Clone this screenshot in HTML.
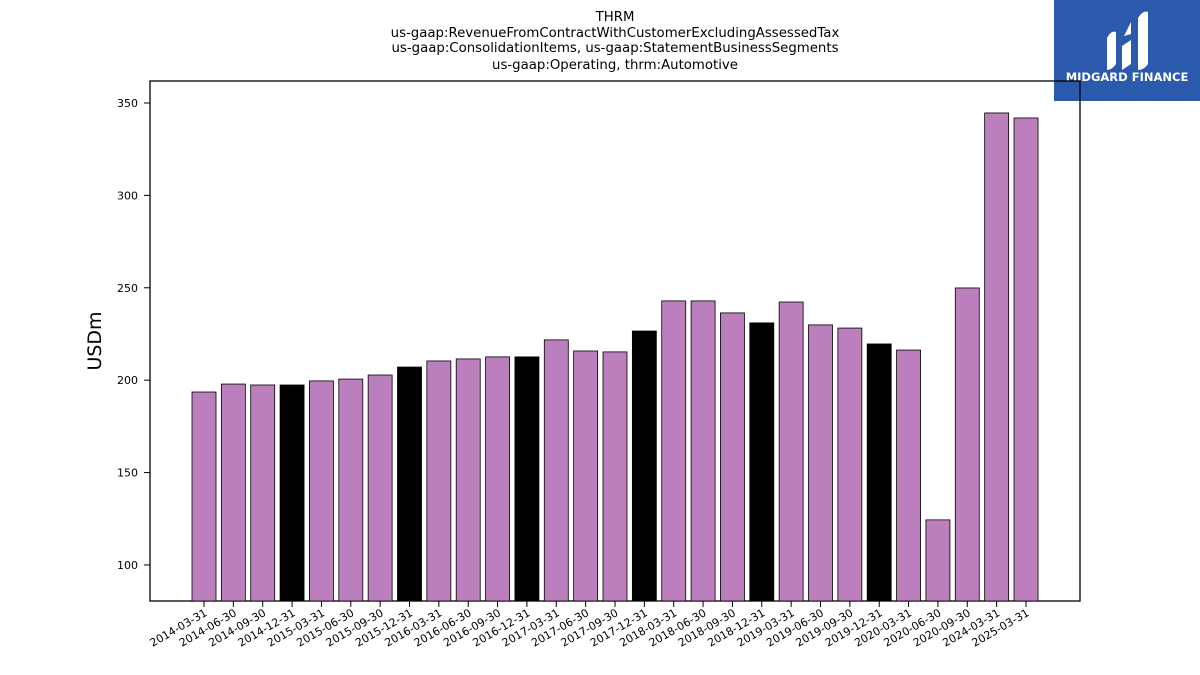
<!DOCTYPE html>
<html><head><meta charset="utf-8"><style>
body{margin:0;background:#fff;font-family:"DejaVu Sans","Liberation Sans",sans-serif}
svg{display:block}
</style></head><body>
<svg id="c" width="1200" height="675">
<g font-size="13.3" text-anchor="middle" fill="#000">
<text x="615" y="21">THRM</text>
<text x="615" y="37">us-gaap:RevenueFromContractWithCustomerExcludingAssessedTax</text>
<text x="615" y="52">us-gaap:ConsolidationItems, us-gaap:StatementBusinessSegments</text>
<text x="615" y="69">us-gaap:Operating, thrm:Automotive</text>
</g>
<g>
<rect x="1054" y="0" width="146" height="101" fill="#2b5aad"/>
<path d="M1107 70 L1107 38 Q1111 30 1116 32 L1116 64 Q1112 70 1107 70Z M1122 70 L1122 46 L1131 40 L1131 64Z M1138 70 L1138 18 Q1143 10 1148 12 L1148 64 Q1144 70 1138 70Z M1124 36 L1131 22 L1131 34Z" fill="#fff"/>
<text x="1127" y="81" font-size="11.5" font-weight="bold" fill="#fff" text-anchor="middle">MIDGARD FINANCE</text>
</g>
<rect x="150" y="81" width="930" height="520" fill="none" stroke="#000" stroke-width="1.3"/>
<text transform="translate(101,341) rotate(-90)" font-size="19" text-anchor="middle">USDm</text>
<g id="yax"></g><g id="bars"></g><g id="xax"></g>
</svg>
<script>
const categories=["2014-03-31","2014-06-30","2014-09-30","2014-12-31","2015-03-31","2015-06-30","2015-09-30","2015-12-31","2016-03-31","2016-06-30","2016-09-30","2016-12-31","2017-03-31","2017-06-30","2017-09-30","2017-12-31","2018-03-31","2018-06-30","2018-09-30","2018-12-31","2019-03-31","2019-06-30","2019-09-30","2019-12-31","2020-03-31","2020-06-30","2020-09-30","2024-03-31","2025-03-31"];
const values=[193.6,197.9,197.4,197.4,199.6,200.6,202.8,207.1,210.4,211.5,212.6,212.6,221.8,215.8,215.3,226.6,242.9,242.9,236.4,231.0,242.3,229.9,228.2,219.6,216.3,124.4,249.9,344.6,341.9];
const yTicks=[100,150,200,250,300,350];
const NS="http://www.w3.org/2000/svg";
const yMin=80.5,yMax=361.9,plotTop=81,plotBottom=601;
function y(v){return plotBottom-(v-yMin)/(yMax-yMin)*(plotBottom-plotTop);}
const x0=204,x1=1026;
function x(i){return x0+i*(x1-x0)/(categories.length-1);}
const yax=document.getElementById('yax'),bars=document.getElementById('bars'),xax=document.getElementById('xax');
yTicks.forEach(t=>{
 const l=document.createElementNS(NS,'line');
 
 
 l.setAttribute('x1',144);l.setAttribute('x2',150);l.setAttribute('y1',y(t));l.setAttribute('y2',y(t));l.setAttribute('stroke','#000');
 yax.appendChild(l);
 const tx=document.createElementNS(NS,'text');
 
 
 tx.setAttribute('x',138);tx.setAttribute('y',y(t)+4);tx.setAttribute('text-anchor','end');tx.setAttribute('font-size','11');
 tx.textContent=t;yax.appendChild(tx);
});
values.forEach((v,i)=>{
 const r=document.createElementNS(NS,'rect');
 
 
 const bw=24;
 r.setAttribute('x',x(i)-bw/2);r.setAttribute('width',bw);
 const yt=y(v);r.setAttribute('y',yt);r.setAttribute('height',plotBottom-yt);
 r.setAttribute('fill',categories[i].endsWith('12-31')?'#000':'#bb7fbd');
 r.setAttribute('stroke','#000');r.setAttribute('stroke-width','0.8');
 bars.appendChild(r);
 const l=document.createElementNS(NS,'line');
 
 
 l.setAttribute('x1',x(i));l.setAttribute('x2',x(i));l.setAttribute('y1',601);l.setAttribute('y2',607);l.setAttribute('stroke','#000');
 xax.appendChild(l);
 const tx=document.createElementNS(NS,'text');
 
 
 tx.setAttribute('font-size','11');tx.setAttribute('text-anchor','end');
 tx.setAttribute('transform','translate('+(x(i)+4)+',615) rotate(-30)');
 tx.textContent=categories[i];xax.appendChild(tx);
});
</script>
</body></html>
